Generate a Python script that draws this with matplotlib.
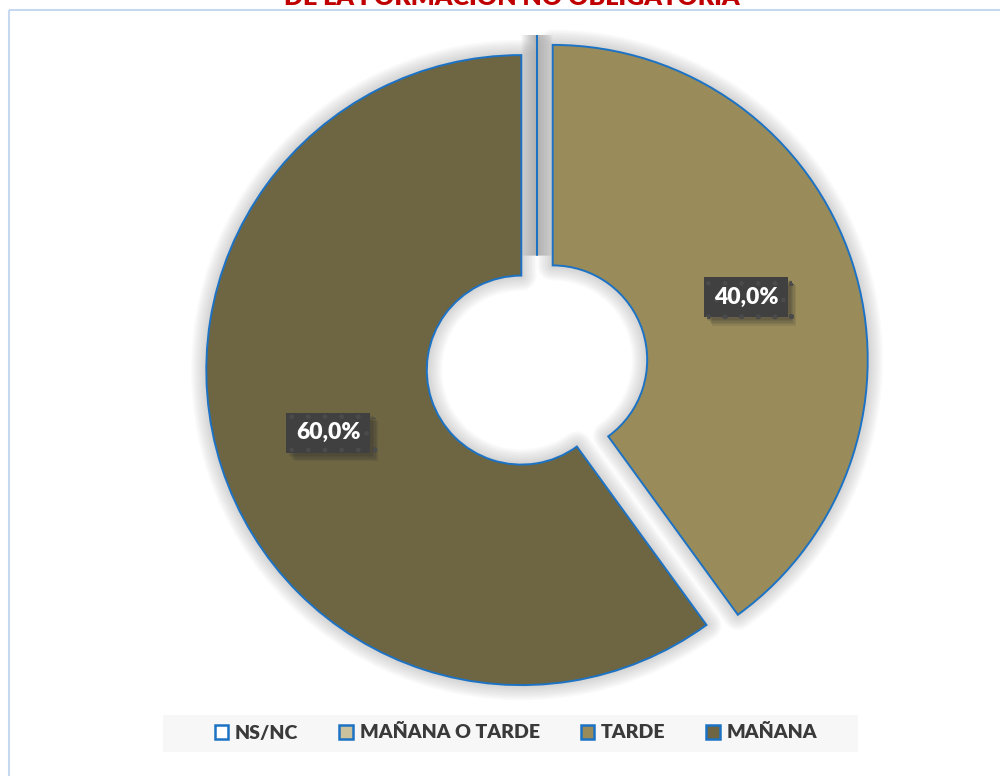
import matplotlib
matplotlib.use('Agg')
import matplotlib.pyplot as plt
from matplotlib.patches import PathPatch, Rectangle
from matplotlib import patheffects as pe

# datos del gráfico
categorias = ['NS/NC', 'MAÑANA O TARDE', 'TARDE', 'MAÑANA']
porcentajes = [0.0, 0.0, 40.0, 60.0]
colores = ['#FFFFFF', '#C9C29C', '#9A8C5A', '#6E6642']
titulo = 'DE LA FORMACIÓN NO OBLIGATORIA'

plt.rcParams['font.family'] = ['Lato', 'DejaVu Sans']

fig = plt.figure(figsize=(10, 7.76), dpi=100)
ax = fig.add_axes([0, 0, 1, 1])

# el eje trabaja en pixeles (origen abajo a la izquierda)
centro = (537, 411)
radio = 315
borde = '#1C72C4'


def etiqueta(p):
    return f'{p:.1f}%'.replace('.', ',') if p > 0 else ''


wedges, textos, autotextos = ax.pie(
    porcentajes, colors=colores, startangle=90, counterclock=False,
    radius=radio, center=centro, explode=[15, 15, 16.5, 16.5],
    wedgeprops=dict(width=0.70 * radio, edgecolor=borde, linewidth=1.4),
    autopct=etiqueta, pctdistance=0.645,
    textprops=dict(color='white', fontsize=16.5, fontweight='heavy'))

# halo gris suave alrededor de los sectores
for w in wedges:
    for k in range(1, 11):
        ax.add_patch(PathPatch(w.get_path(), facecolor='none', edgecolor='#6f6f6f',
                               lw=2.2 * k, alpha=0.032, joinstyle='round', zorder=0.5))

# etiquetas de porcentaje en recuadro oscuro con sombra difusa
for t in autotextos:
    if not t.get_text():
        continue
    t.set_bbox(dict(boxstyle='square,pad=0.42', facecolor='#404040',
                    edgecolor='#4b4b4b', linewidth=0, hatch='.'))
    sombra = [pe.SimplePatchShadow(offset=(2 + i, -(2 + i)), shadow_rgbFace='#2f2f2f',
                                   alpha=0.12) for i in range(5)]
    t.get_bbox_patch().set_path_effects(sombra + [pe.Normal()])

# fondo de la leyenda
ax.add_patch(Rectangle((163, 24), 695, 37, facecolor='#F7F7F7', edgecolor='none', zorder=0.2))

leg = ax.legend(wedges, categorias, loc='center', bbox_to_anchor=(516, 43),
                bbox_transform=ax.transData, ncol=4, frameon=False,
                handlelength=0.7, handleheight=0.7, handletextpad=0.35,
                columnspacing=2.1, prop=dict(weight='heavy', size=14))
for txt in leg.get_texts():
    txt.set_color('#3a3a3a')
for h in leg.legend_handles:
    h.set_edgecolor(borde)
    h.set_linewidth(1.8)

# marco del área del gráfico
ax.plot([9, 9], [0, 766.5], color='#C6D9F0', lw=1.5, solid_capstyle='butt')
ax.plot([9, 1000], [766.5, 766.5], color='#C6D9F0', lw=1.5, solid_capstyle='butt')

# título (recortado por el borde superior)
ax.text(512, 771, titulo, ha='center', va='baseline', color='#C00000',
        fontsize=18, fontweight='heavy')

ax.set_xlim(0, 1000)
ax.set_ylim(0, 776)
ax.set_aspect('auto')
ax.axis('off')

fig.savefig('out.png', dpi=100, facecolor='white')
